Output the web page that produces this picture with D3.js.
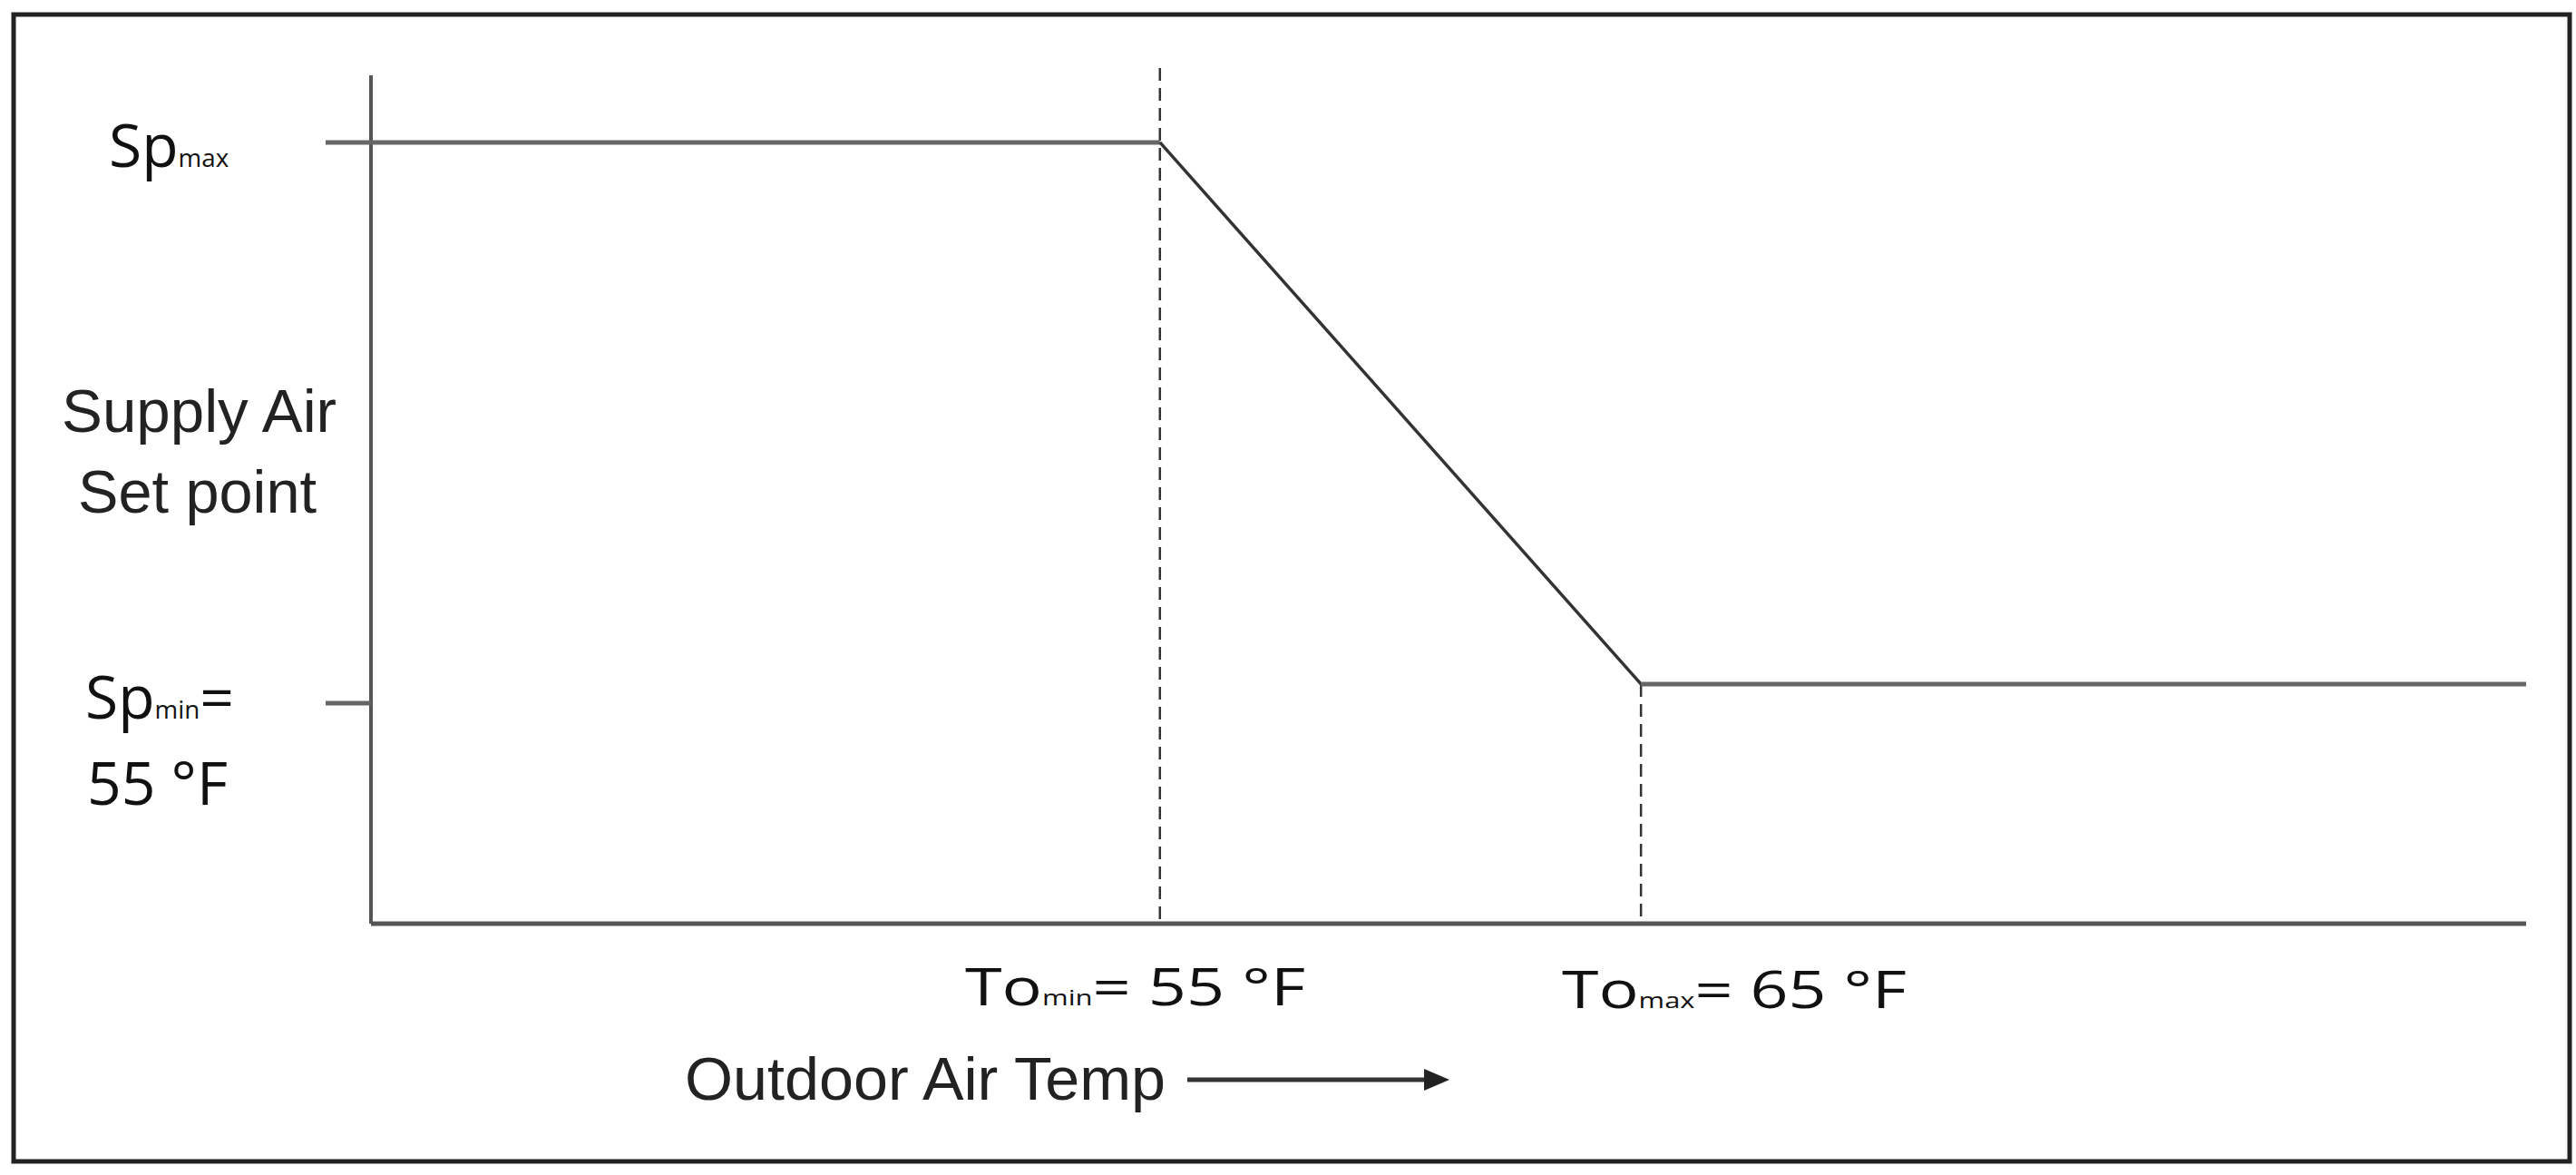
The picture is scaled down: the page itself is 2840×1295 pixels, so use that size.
<!DOCTYPE html>
<html>
<head>
<meta charset="utf-8">
<script src="https://cdn.jsdelivr.net/npm/d3@7"></script>
<style>
  body { margin: 0; background: #fff; }
  svg { display: block; }
</style>
</head>
<body>
<div id="chart"></div>
<script>
// outdoor air temp (°F) vs supply air set point (schematic units)
const outdoorTemps = [38.6, 55, 65, 83.4];
const setPoints = [66.3, 66.3, 55, 55];
const toMin = 55, toMax = 65;
const spMinTick = 54.6;
const xDomain = [38.6, 83.4];
const yDomain = [50, 67.7];

const width = 2840, height = 1295;
const svg = d3.select('#chart').append('svg')
    .attr('width', width)
    .attr('height', height);

const x = d3.scaleLinear().domain(xDomain).range([409, 2785]);
const y = d3.scaleLinear().domain(yDomain).range([1018, 83]);

// frame
svg.append('rect')
    .attr('x', 15).attr('y', 16)
    .attr('width', 2818).attr('height', 1264)
    .attr('fill', 'none')
    .attr('stroke', '#222')
    .attr('stroke-width', 5);

// dashed guides
svg.append('line')
    .attr('x1', x(toMin)).attr('x2', x(toMin))
    .attr('y1', 75).attr('y2', y(yDomain[0]))
    .attr('stroke', '#333').attr('stroke-width', 2.5)
    .attr('stroke-dasharray', '14,8');
svg.append('line')
    .attr('x1', x(toMax)).attr('x2', x(toMax))
    .attr('y1', y(setPoints[2])).attr('y2', y(yDomain[0]))
    .attr('stroke', '#333').attr('stroke-width', 2.5)
    .attr('stroke-dasharray', '14,8');

// axes
svg.append('line')
    .attr('x1', x(xDomain[0])).attr('x2', x(xDomain[0]))
    .attr('y1', y(yDomain[1])).attr('y2', y(yDomain[0]))
    .attr('stroke', '#555').attr('stroke-width', 4);
svg.append('line')
    .attr('x1', x(xDomain[0])).attr('x2', x(xDomain[1]))
    .attr('y1', y(yDomain[0])).attr('y2', y(yDomain[0]))
    .attr('stroke', '#555').attr('stroke-width', 5);

// set point curve: flat parts thicker grey, slope thinner
const pts = outdoorTemps.map((t, i) => [t, setPoints[i]]);
svg.append('line')
    .attr('x1', 359).attr('x2', x(pts[1][0]))
    .attr('y1', y(pts[0][1])).attr('y2', y(pts[1][1]))
    .attr('stroke', '#666').attr('stroke-width', 5);
svg.append('line')
    .attr('x1', x(pts[1][0])).attr('x2', x(pts[2][0]))
    .attr('y1', y(pts[1][1])).attr('y2', y(pts[2][1]))
    .attr('stroke', '#333').attr('stroke-width', 3.5);
svg.append('line')
    .attr('x1', x(pts[2][0])).attr('x2', x(pts[3][0]))
    .attr('y1', y(pts[2][1])).attr('y2', y(pts[3][1]))
    .attr('stroke', '#666').attr('stroke-width', 5);
// Sp min tick
svg.append('line')
    .attr('x1', 359).attr('x2', x(xDomain[0]))
    .attr('y1', y(spMinTick)).attr('y2', y(spMinTick))
    .attr('stroke', '#666').attr('stroke-width', 5);

const sans = '"Open Sans", "DejaVu Sans", sans-serif';
const narrow = '"Liberation Sans", Arial, sans-serif';

function subLabel(px, py, main, sub, rest, size) {
    const t = svg.append('text')
        .attr('x', px).attr('y', py)
        .attr('font-family', sans).attr('font-size', size).attr('fill', '#111');
    t.append('tspan').text(main);
    t.append('tspan').attr('font-size', size * 0.42).text(sub);
    if (rest) t.append('tspan').text(rest);
    return t;
}

subLabel(120, 184, 'Sp', 'max', null, 66);
subLabel(94, 792, 'Sp', 'min', '=', 66);
svg.append('text').attr('x', 96).attr('y', 887)
    .attr('font-family', sans).attr('font-size', 66).attr('fill', '#111')
    .text('55 °F');

subLabel(1064, 1108, 'To', 'min', '= 55 °F', 56)
    .attr('textLength', 375).attr('lengthAdjust', 'spacingAndGlyphs');
subLabel(1722, 1111, 'To', 'max', '= 65 °F', 56)
    .attr('textLength', 380).attr('lengthAdjust', 'spacingAndGlyphs');

// y title
[['Supply Air', 476], ['Set point', 565]].forEach(([s, by], i) => {
    svg.append('text')
        .attr('x', i === 0 ? 68 : 86).attr('y', by)
        .attr('font-family', narrow).attr('font-size', 66)
        .attr('fill', '#222')
        .attr('textLength', i === 0 ? 303 : 263)
        .attr('lengthAdjust', 'spacingAndGlyphs')
        .text(s);
});

// x title with arrow
svg.append('text')
    .attr('x', 755).attr('y', 1212)
    .attr('font-family', narrow).attr('font-size', 66).attr('fill', '#222')
    .attr('textLength', 530).attr('lengthAdjust', 'spacingAndGlyphs')
    .text('Outdoor Air Temp');
svg.append('line')
    .attr('x1', 1309).attr('x2', 1572)
    .attr('y1', 1190).attr('y2', 1190)
    .attr('stroke', '#333').attr('stroke-width', 5);
svg.append('path')
    .attr('d', d3.line()([[1570, 1178], [1598, 1190], [1570, 1202]]))
    .attr('fill', '#222');
</script>
</body>
</html>
